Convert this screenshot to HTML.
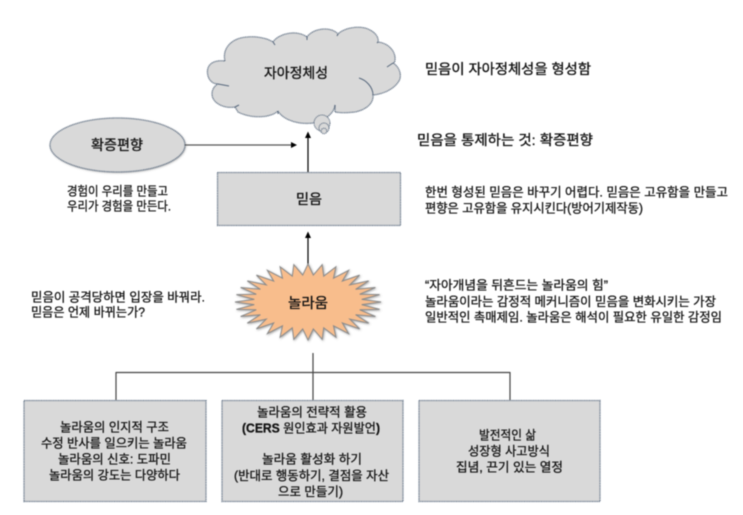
<!DOCTYPE html>
<html lang="ko">
<head>
<meta charset="utf-8">
<title>믿음과 놀라움</title>
<style>
html,body{margin:0;padding:0;background:#fff;}
body{width:743px;height:515px;overflow:hidden;}
svg{display:block;filter:blur(0.4px);}
text{font-family:"Liberation Sans","Noto Sans CJK KR",sans-serif;font-size:12.5px;fill:#111;stroke:#111;stroke-width:0.28px;}
.big{font-size:14px;stroke-width:0.32px;}
.box{fill:#d9d9d9;stroke:#56677c;stroke-width:1.3;stroke-dasharray:1 .7;}
.ln{stroke:#444;stroke-width:1.2;fill:none;}
.ar{stroke:#000;stroke-width:1.2;fill:none;}
</style>
</head>
<body>
<svg width="743" height="515" viewBox="0 0 743 515" xmlns="http://www.w3.org/2000/svg">
<defs>
<filter id="sh" x="-10%" y="-10%" width="125%" height="125%"><feDropShadow dx="0.8" dy="0.8" stdDeviation="1" flood-color="#555" flood-opacity="0.55"/></filter>
</defs>

<!-- cloud -->
<path class="box" d="M225,61 C222,50 230,38 247,37 C256,36 267,38 273,42 C278,34 296,29 307,37 C313,28 331,26 338,34 C345,27 362,25 370,30 C376,33 379,38 378,42 C388,43 396,51 395,60 C395,62 394,63 393,63 C400,67 402,76 399,81 C394,89 384,94 373,95 C374,103 366,110 355,112 C347,113 341,113 335,112 L335,105 C334,114 325,120 313,123 C299,125 283,120 278,111 C271,118 251,119 238,112 L235,107 C224,109 212,103 212,94 C212,90 214,86 218,84 C209,84 206,74 208,68 C210,62 217,60 225,61 Z"/>
<path class="ln" style="stroke:#56677c;stroke-width:1" d="M359,78 C366,80 373,87 373,95 M387,67 L393,63 M378,42 L377,43 M218,84 L229,86 M273,42 L275,45 M307,37 L307,40 M338,34 L337,36 M235,107 L239,105 M278,111 L278,114"/>
<circle cx="322" cy="123" r="8" fill="#d9d9d9" stroke="#56677c" stroke-width="1" stroke-dasharray="1 .7"/>
<circle cx="324" cy="128" r="5" fill="#d9d9d9" stroke="#56677c" stroke-width="1" stroke-dasharray="1 .7"/>
<circle cx="324" cy="131" r="2.8" fill="#d9d9d9" stroke="#56677c" stroke-width="1" stroke-dasharray="1 .7"/>
<text class="big" x="264" y="78" textLength="64" lengthAdjust="spacingAndGlyphs">자아정체성</text>

<!-- ellipse -->
<ellipse cx="117.5" cy="145" rx="67.5" ry="27" fill="#d9d9d9" filter="url(#sh)"/>
<ellipse class="box" cx="117.5" cy="145" rx="67.5" ry="27"/>
<text class="big" x="91" y="150" textLength="52" lengthAdjust="spacingAndGlyphs">확증편향</text>

<!-- rect belief -->
<rect class="box" x="217.500" y="172.500" width="183" height="53"/>
<text class="big" x="296" y="204" textLength="26" lengthAdjust="spacingAndGlyphs">믿음</text>

<!-- arrows -->
<line x1="185" y1="145" x2="292" y2="145" class="ln" style="stroke:#555"/>
<polygon points="297,145 291,142 291,148" fill="#000"/>
<line x1="308" y1="172" x2="308" y2="137" class="ar"/>
<polygon points="308,131.500 305,138 311,138" fill="#000"/>
<line x1="308" y1="266" x2="308" y2="237" class="ar"/>
<polygon points="308,231.500 305,238 311,238" fill="#000"/>

<!-- burst -->
<polygon id="burst" fill="#f8bd8c" stroke="#8a8a8a" stroke-width="1" filter="url(#sh)" points="381,302 362,302 308,264 254,302 235,302 254,302 308,340 362,302"/>
<text class="big" x="288" y="308" textLength="40" lengthAdjust="spacingAndGlyphs">놀라움</text>

<!-- tree connectors -->
<line x1="313" y1="353" x2="313" y2="400" class="ln"/>
<line x1="116" y1="372.500" x2="510" y2="372.500" class="ln"/>
<line x1="116" y1="372" x2="116" y2="400" class="ln"/>
<line x1="510" y1="372" x2="510" y2="400" class="ln"/>

<!-- bottom boxes -->
<rect class="box" x="24" y="400.500" width="182" height="101"/>
<rect class="box" x="222" y="400.500" width="181" height="101"/>
<rect class="box" x="419" y="400.500" width="181" height="101"/>

<text x="60" y="431.500" textLength="109" lengthAdjust="spacingAndGlyphs">놀라움의 인지적 구조</text>
<text x="41" y="447.500" textLength="146" lengthAdjust="spacingAndGlyphs">수정 반사를 일으키는 놀라움</text>
<text x="58" y="463.500" textLength="113" lengthAdjust="spacingAndGlyphs">놀라움의 신호: 도파민</text>
<text x="49" y="479.500" textLength="131" lengthAdjust="spacingAndGlyphs">놀라움의 강도는 다양하다</text>

<text x="257" y="416.500" textLength="110" lengthAdjust="spacingAndGlyphs">놀라움의 전략적 활용</text>
<text x="242" y="432.500" textLength="138" lengthAdjust="spacingAndGlyphs"><tspan font-weight="bold">(CERS</tspan> 원인효과 자원발언<tspan font-weight="bold">)</tspan></text>
<text x="262" y="463.500" textLength="100" lengthAdjust="spacingAndGlyphs">놀라움 활성화 하기</text>
<text x="234" y="480" textLength="155" lengthAdjust="spacingAndGlyphs">(반대로 행동하기, 결점을 자산</text>
<text x="278" y="496" textLength="65" lengthAdjust="spacingAndGlyphs">으로 만들기)</text>

<text x="479" y="439.500" textLength="57" lengthAdjust="spacingAndGlyphs">발전적인 삶</text>
<text x="468" y="455.500" textLength="82" lengthAdjust="spacingAndGlyphs">성장형 사고방식</text>
<text x="456" y="471.500" textLength="107" lengthAdjust="spacingAndGlyphs">집념, 끈기 있는 열정</text>

<!-- free text -->
<text x="67" y="195.500" textLength="101" lengthAdjust="spacingAndGlyphs">경험이 우리를 만들고</text>
<text x="67" y="210.500" textLength="104" lengthAdjust="spacingAndGlyphs">우리가 경험을 만든다.</text>

<text class="big" x="425" y="74" textLength="166" lengthAdjust="spacingAndGlyphs">믿음이 자아정체성을 형성함</text>
<text class="big" x="417" y="145" textLength="176" lengthAdjust="spacingAndGlyphs">믿음을 통제하는 것: 확증편향</text>
<text x="425" y="196.500" textLength="303" lengthAdjust="spacingAndGlyphs">한번 형성된 믿음은 바꾸기 어렵다. 믿음은 고유함을 만들고</text>
<text x="425" y="212.500" textLength="218" lengthAdjust="spacingAndGlyphs">편향은 고유함을 유지시킨다(방어기제작동)</text>

<text x="425" y="289.500" textLength="183" lengthAdjust="spacingAndGlyphs">“자아개념을 뒤흔드는 놀라움의 힘”</text>
<text x="425" y="306" textLength="291" lengthAdjust="spacingAndGlyphs">놀라움이라는 감정적 메커니즘이 믿음을 변화시키는 가장</text>
<text x="425" y="321.500" textLength="297" lengthAdjust="spacingAndGlyphs">일반적인 촉매제임. 놀라움은 해석이 필요한 유일한 감정임</text>

<text x="31" y="301.500" textLength="174" lengthAdjust="spacingAndGlyphs">믿음이 공격당하면 입장을 바꿔라.</text>
<text x="31" y="316.500" textLength="114" lengthAdjust="spacingAndGlyphs">믿음은 언제 바뀌는가?</text>
</svg>
<script>
(function(){
  var n=32,p=[],cx=308,cy=302;
  for(var i=0;i<n*2;i++){
    var a=Math.PI*i/n,o=i%2===0;
    var rx=o?73:54,ry=o?38:27;
    p.push((cx+rx*Math.cos(a)).toFixed(1)+","+(cy+ry*Math.sin(a)).toFixed(1));
  }
  document.getElementById("burst").setAttribute("points",p.join(" "));
})();
</script>
</body>
</html>
